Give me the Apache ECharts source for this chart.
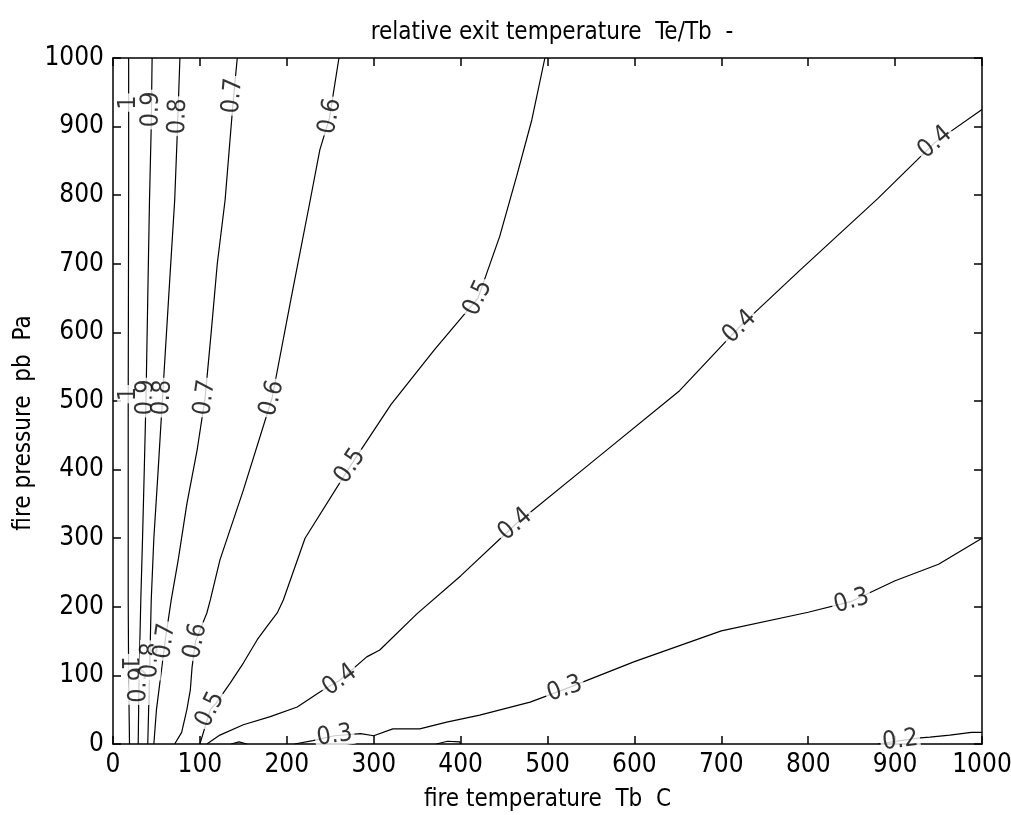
<!DOCTYPE html>
<html>
<head>
<meta charset="utf-8">
<script src="https://cdn.jsdelivr.net/npm/echarts@6/dist/echarts.min.js"></script>
<style>
  html, body { margin: 0; padding: 0; background: #fff; }
  #echart-box { width: 1011px; height: 815px; }
</style>
</head>
<body>
<div id="echart-box"></div>
<script>
// contour lines: [fire temperature, fire pressure]
var c10 = [[19, 0], [18, 100], [17.5, 210], [17.5, 500], [18, 800], [18, 1000]];
var c09 = [[29, 0], [30, 100], [32, 210], [34, 300], [36, 400], [38, 505], [40, 650], [42, 793], [44, 900], [45, 1000]];
var c08 = [[40, 0], [42, 100], [44, 210], [47, 300], [52, 400], [57, 505], [64, 650], [71, 793], [74, 891], [77, 1000]];
var c07 = [[47, 0], [50, 50], [55, 100], [60, 150], [67, 210], [75, 268], [85, 350], [97, 430], [106, 505], [113, 600], [120, 700], [129, 793], [137, 917], [140, 960], [143, 1000]];
var c06 = [[71, 0], [79, 17], [85, 50], [89, 79], [91, 112], [95, 150], [108, 191], [112, 210], [123, 268], [150, 370], [183, 504], [205, 650], [227, 793], [238, 866], [249, 912], [260, 1000]];
var c05 = [[100, 0], [112, 50], [119, 60], [135, 89], [150, 118], [166, 152], [177, 171], [189, 191], [196, 210], [221, 300], [273, 405], [320, 495], [370, 575], [420, 650], [445, 740], [465, 830], [482, 910], [497, 1000]];
var c04 = [[108, 0], [123, 13], [150, 28], [181, 40], [212, 54], [242, 79], [261, 93], [292, 127], [307, 137], [350, 190], [400, 245], [463, 320], [560, 420], [652, 515], [721, 608], [790, 690], [880, 795], [946, 877], [1000, 925]];
var c04b = [[136, 0], [145, 3], [154, 0]];
var c03 = [[209, 0], [230, 5], [255, 12], [285, 15], [300, 12], [322, 22], [353, 22], [384, 32], [422, 42], [480, 61], [520, 80], [600, 120], [700, 165], [800, 192], [850, 208], [900, 238], [950, 262], [1000, 300]];
var c03b = [[372, 0], [385, 4], [399, 3], [400, 0]];
var c02 = [[880, 0], [906, 5], [929, 9], [940, 10], [963, 13], [988, 17], [1000, 17]];

// label positions on each line
var l10 = [[17.5, 935], [17.5, 510], [17.5, 118]];
var l09 = [[44, 925], [38, 505], [30, 86]];
var l08 = [[75, 915], [57, 505], [43, 122]];
var l07 = [[138, 945], [106, 505], [60, 150]];
var l06 = [[250, 915], [183, 504], [95, 150]];
var l05 = [[420, 650], [273, 405], [112, 50]];
var l04 = [[946, 877], [721, 608], [463, 320], [261, 93]];
var l03 = [[255, 12], [520, 80], [850, 208]];
var l02 = [[906, 5]];

var levels = ['1', '0.9', '0.8', '0.7', '0.6', '0.5', '0.4', '0.4', '0.3', '0.3', '0.2'];
var lines = [c10, c09, c08, c07, c06, c05, c04, c04b, c03, c03b, c02];
var labels = [l10, l09, l08, l07, l06, l05, l04, [], l03, [], l02];

var xTicks = [0, 1000, 100];
var yTicks = [0, 1000, 100];

var FONT = '"Liberation Sans Narrow", "DejaVu Sans Condensed", "Liberation Sans", sans-serif';

function init() {
    const element = document.getElementById("echart-box");
    const instance = echarts.init(element);

    var axisBase = {
        type: 'value',
        splitLine: { show: false },
        axisLine: { show: true, onZero: false, lineStyle: { color: '#000', width: 1.5 } },
        axisTick: { show: true, inside: true, length: 8, lineStyle: { color: '#000', width: 1.5 } }
    };
    var plain = function (v) { return String(v); };

    var series = [];
    for (var i = 0; i < lines.length; i++) {
        series.push({
            type: 'line',
            data: lines[i],
            showSymbol: false,
            symbol: 'none',
            clip: true,
            silent: true,
            z: 2,
            lineStyle: { color: '#000', width: 1.2 }
        });
    }

    function labelSeries(rotations) {
        var out = [];
        for (var i = 0; i < labels.length; i++) {
            if (!labels[i].length) continue;
            var d = [];
            for (var j = 0; j < labels[i].length; j++) {
                d.push({
                    value: labels[i][j],
                    label: { rotate: rotations ? rotations[i][j] : 0 }
                });
            }
            out.push({
                type: 'scatter',
                data: d,
                symbolSize: 1,
                itemStyle: { color: 'rgba(0,0,0,0)' },
                silent: true,
                z: 5,
                label: {
                    show: true,
                    position: 'inside',
                    formatter: levels[i],
                    color: '#000',
                    fontFamily: FONT,
                    fontSize: 25,
                    lineHeight: 22,
                    backgroundColor: '#fff',
                    padding: [0, 2]
                }
            });
        }
        return out;
    }

    var option = {
        animation: false,
        backgroundColor: '#fff',
        title: {
            text: 'relative exit temperature  Te/Tb  -',
            left: 547,
            top: 16,
            textAlign: 'center',
            textStyle: { fontFamily: FONT, fontSize: 24, fontWeight: 'normal', color: '#000' }
        },
        grid: { left: 113, right: 29, top: 58, bottom: 71, containLabel: false, outerBoundsMode: 'none' },
        xAxis: [
            Object.assign({}, axisBase, {
                position: 'bottom',
                min: xTicks[0], max: xTicks[1], interval: xTicks[2],
                name: 'fire temperature  Tb  C',
                nameLocation: 'middle',
                nameGap: 44,
                nameTextStyle: { fontFamily: FONT, fontSize: 24, color: '#000' },
                axisLabel: { margin: 8, color: '#000', fontFamily: FONT, fontSize: 26, formatter: plain }
            }),
            Object.assign({}, axisBase, {
                position: 'top',
                min: xTicks[0], max: xTicks[1], interval: xTicks[2],
                axisLabel: { show: false }
            })
        ],
        yAxis: [
            Object.assign({}, axisBase, {
                position: 'left',
                min: yTicks[0], max: yTicks[1], interval: yTicks[2],
                axisLabel: { margin: 9, color: '#000', fontFamily: FONT, fontSize: 26, formatter: plain }
            }),
            Object.assign({}, axisBase, {
                position: 'right',
                min: yTicks[0], max: yTicks[1], interval: yTicks[2],
                axisLabel: { show: false }
            })
        ],
        graphic: [{
            type: 'text',
            x: 24,
            y: 423,
            rotation: Math.PI / 2,
            style: {
                text: 'fire pressure  pb  Pa',
                fill: '#000',
                font: '24px ' + FONT,
                textAlign: 'center',
                textVerticalAlign: 'middle'
            }
        }],
        series: series.concat(labelSeries(null))
    };
    instance.setOption(option);

    // turn each label along its line
    var rot = [];
    for (var i = 0; i < labels.length; i++) {
        var r = [];
        var px = lines[i].map(function (p) { return instance.convertToPixel({ xAxisIndex: 0, yAxisIndex: 0 }, p); });
        for (var j = 0; j < labels[i].length; j++) {
            var q = instance.convertToPixel({ xAxisIndex: 0, yAxisIndex: 0 }, labels[i][j]);
            var best = 0, bestD = Infinity;
            for (var k = 0; k < px.length - 1; k++) {
                var mx = (px[k][0] + px[k + 1][0]) / 2, my = (px[k][1] + px[k + 1][1]) / 2;
                var dd = (mx - q[0]) * (mx - q[0]) + (my - q[1]) * (my - q[1]);
                if (dd < bestD) { bestD = dd; best = k; }
            }
            var a = px[Math.max(0, best - 1)], b = px[Math.min(px.length - 1, best + 2)];
            var ang = -Math.atan2(b[1] - a[1], b[0] - a[0]) * 180 / Math.PI;
            if (ang > 90) ang -= 180;
            if (ang <= -90) ang += 180;
            r.push(Math.round(ang));
        }
        rot.push(r);
    }
    instance.setOption({ series: series.concat(labelSeries(rot)) });

    window.onresize = function () {
        instance.resize();
    };
}
init();
</script>
</body>
</html>
